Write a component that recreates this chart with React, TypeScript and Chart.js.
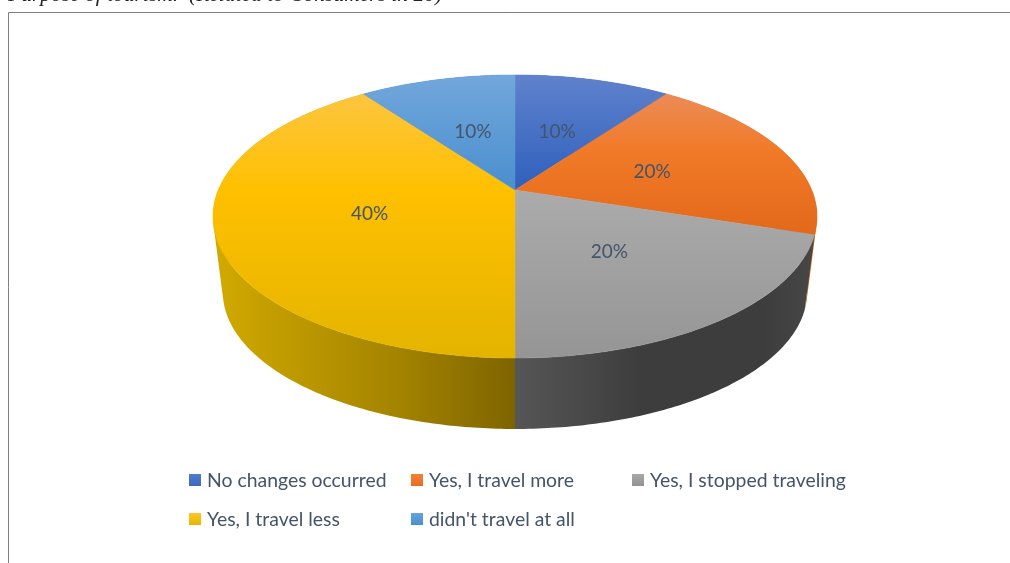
import React, { useEffect, useRef } from "react";
import { Chart, registerables } from "chart.js";

Chart.register(...registerables);

const categories = ["No changes occurred", "Yes, I travel more", "Yes, I stopped traveling", "Yes, I travel less", "didn't travel at all"];
const shares = [10, 20, 20, 40, 10];
const headline = "Purpose of tourism.  (Related to Consumers in 20)";

// [y position on page, colour] stops for each slice's top face
const faceStops: [number, string][][] = [
  [[75, "#5f82cc"], [190, "#2f60bc"]],
  [[95, "#ec8b57"], [150, "#f17a28"], [235, "#e2691a"]],
  [[190, "#ababab"], [358, "#959595"]],
  [[95, "#fcc53f"], [190, "#ffc000"], [358, "#e3b400"]],
  [[75, "#72a7dc"], [190, "#4a8fce"]],
];
// [x position on page, colour] stops for each slice's rim
const rimStops: [number, string][][] = [
  [[515, "#2f5597"], [815, "#2f5597"]],
  [[515, "#c85f18"], [817, "#c85f18"]],
  [[515, "#565656"], [640, "#3d3d3d"], [760, "#3d3d3d"], [817, "#474747"]],
  [[222, "#d0a800"], [400, "#a38300"], [515, "#7e6400"]],
  [[222, "#2e75b6"], [515, "#2e75b6"]],
];
const swatchTop = ["#4f7bcb", "#f28139", "#a9a9a9", "#ffc62a", "#65a3de"];
const swatchBottom = ["#3d69bd", "#ea6d1f", "#929292", "#e6b800", "#4a8fce"];

const TOP = { cx: 515, cy: 190, a: 136.6, b: 296.7, p: 0.187 };
const BASE = { cx: 515, cy: 266.6, a: 132, b: 287, p: 0.187 };
const FONT = "Lato";
const TEXT = "#44546a";
const LEGEND_COLS = [189, 411, 632];
const LEGEND_ROWS = [480, 519];

type Disc = typeof TOP;
const project = (d: Disc, angle: number, r = 1) => {
  const u = Math.cos(angle) * r;
  const v = Math.sin(angle) * r;
  const s = 1 / (1 - d.p * v);
  return { x: d.cx + d.b * u * s, y: d.cy + d.a * v * s };
};

const ringPoints = (d: Disc, a0: number, a1: number) => {
  const n = Math.max(2, Math.ceil(Math.abs(a1 - a0) / (Math.PI / 240)));
  const pts = [];
  for (let i = 0; i <= n; i++) pts.push(project(d, a0 + ((a1 - a0) * i) / n));
  return pts;
};

const perspectivePie = {
  id: "perspectivePie",
  beforeDatasetsDraw(chart: any) {
    const ctx: CanvasRenderingContext2D = chart.ctx;
    const arcs = chart.getDatasetMeta(0).data;

    // page furniture
    ctx.save();
    ctx.fillStyle = "#ffffff";
    ctx.fillRect(0, 0, chart.width, chart.height);
    ctx.strokeStyle = "#808080";
    ctx.lineWidth = 1;
    ctx.beginPath();
    ctx.moveTo(8.5, chart.height);
    ctx.lineTo(8.5, 12.5);
    ctx.lineTo(chart.width, 12.5);
    ctx.stroke();
    ctx.fillStyle = "#222222";
    ctx.font = "italic 21.5px 'Liberation Serif'";
    ctx.textAlign = "left";
    ctx.textBaseline = "alphabetic";
    ctx.fillText(headline, 8, 1);

    // rims: one path of same-wound quads, so the silhouette follows the sweep without seams
    arcs.forEach((arc: any, i: number) => {
      const top = ringPoints(TOP, arc.startAngle, arc.endAngle);
      const base = ringPoints(BASE, arc.startAngle, arc.endAngle);
      const xs = rimStops[i].map((s) => s[0]);
      const g = ctx.createLinearGradient(xs[0], 0, xs[xs.length - 1], 0);
      rimStops[i].forEach(([x, c]) => g.addColorStop((x - xs[0]) / (xs[xs.length - 1] - xs[0]), c));
      ctx.fillStyle = g;
      ctx.beginPath();
      for (let k = 0; k < top.length - 1; k++) {
        const quad = [top[k], top[k + 1], base[k + 1], base[k]];
        let area = 0;
        quad.forEach((p, j) => {
          const q = quad[(j + 1) % 4];
          area += p.x * q.y - q.x * p.y;
        });
        if (area < 0) quad.reverse();
        quad.forEach((p, j) => (j ? ctx.lineTo(p.x, p.y) : ctx.moveTo(p.x, p.y)));
        ctx.closePath();
      }
      ctx.fill("nonzero");
    });

    // top faces
    arcs.forEach((arc: any, i: number) => {
      const stops = faceStops[i];
      const y0 = stops[0][0];
      const y1 = stops[stops.length - 1][0];
      const g = ctx.createLinearGradient(0, y0, 0, y1);
      stops.forEach(([y, c]) => g.addColorStop((y - y0) / (y1 - y0), c));
      ctx.fillStyle = g;
      ctx.strokeStyle = g;
      ctx.lineWidth = 0.5;
      ctx.beginPath();
      ctx.moveTo(TOP.cx, TOP.cy);
      ringPoints(TOP, arc.startAngle, arc.endAngle).forEach((p) => ctx.lineTo(p.x, p.y));
      ctx.closePath();
      ctx.fill();
      ctx.stroke();
    });

    // slice labels
    ctx.fillStyle = TEXT;
    ctx.font = `19px ${FONT}`;
    ctx.textAlign = "center";
    ctx.textBaseline = "middle";
    arcs.forEach((arc: any, i: number) => {
      const p = project(TOP, (arc.startAngle + arc.endAngle) / 2, 0.5);
      ctx.fillText(`${shares[i]}%`, p.x, p.y + 2);
    });

    // legend
    categories.forEach((name, i) => {
      const col = LEGEND_COLS[i % LEGEND_COLS.length];
      const row = LEGEND_ROWS[Math.floor(i / LEGEND_COLS.length)];
      const g = ctx.createLinearGradient(0, row - 6, 0, row + 6);
      g.addColorStop(0, swatchTop[i]);
      g.addColorStop(1, swatchBottom[i]);
      ctx.fillStyle = g;
      ctx.fillRect(col, row - 6, 12, 12);
      ctx.fillStyle = TEXT;
      ctx.font = `19.4px ${FONT}`;
      ctx.textAlign = "left";
      ctx.textBaseline = "middle";
      ctx.fillText(name, col + 18, row + 1);
    });
    ctx.restore();
    return false;
  },
};

export default function App() {
  const ref = useRef<HTMLCanvasElement>(null);
  useEffect(() => {
    const chart = new Chart(ref.current!, {
      type: "pie",
      data: { labels: categories, datasets: [{ data: shares, backgroundColor: swatchTop, borderWidth: 0 }] },
      options: {
        animation: false,
        responsive: false,
        plugins: { legend: { display: false }, tooltip: { enabled: false } },
      },
      plugins: [perspectivePie],
    } as any);
    return () => chart.destroy();
  }, []);
  return (
    <canvas
      ref={ref}
      width={1010}
      height={563}
      style={{ position: "fixed", left: 0, top: 0, width: 1010, height: 563, display: "block" }}
    />
  );
}
